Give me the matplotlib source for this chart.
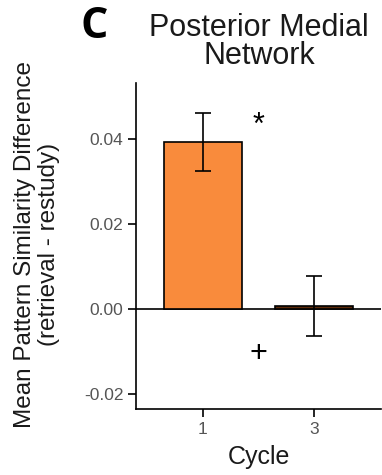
import matplotlib
matplotlib.use("Agg")
import matplotlib.pyplot as plt

plt.rcParams['font.family'] = ['Liberation Sans', 'DejaVu Sans']

categories = ["1", "3"]
means = [0.0394, 0.0007]
errors = [0.0068, 0.0071]
bar_colors = ["#F98B3C", "#5C2A0A"]
yticks = [-0.02, 0.00, 0.02, 0.04]
ytick_labels = ["-0.02", "0.00", "0.02", "0.04"]
star_pos = (0.5, 0.0432)
plus_pos = (0.5, -0.0106)

fig = plt.figure(figsize=(3.82, 4.75), dpi=100)
ax = fig.add_axes([136/382, 1-409/475, (381-136)/382, (409-83)/475])

x = list(range(len(categories)))
ax.bar(x, means, width=0.7, color=bar_colors, edgecolor="black", linewidth=1.2, zorder=2)
ax.errorbar(x, means, yerr=errors, fmt="none", ecolor="black", elinewidth=1.2,
            capsize=5.8, capthick=1.2, zorder=3)
ax.axhline(0, color="black", linewidth=1.2, zorder=1)

ax.set_xlim(-0.6, 1.6)
ax.set_ylim(-0.0235, 0.0532)
ax.set_xticks(x)
ax.set_xticklabels(categories)
ax.set_yticks(yticks)
ax.set_yticklabels(ytick_labels)

for s in ["top", "right"]:
    ax.spines[s].set_visible(False)
for s in ["left", "bottom"]:
    ax.spines[s].set_linewidth(1.2)
ax.tick_params(axis="both", colors="black", labelcolor="#555555", labelsize=12.5,
               length=6, width=1.2, pad=3)

ax.set_xlabel("Cycle", fontsize=18, color="#1a1a1a", labelpad=6)
ax.set_ylabel("Mean Pattern Similarity Difference\n(retrieval - restudy)", fontsize=17.5,
              color="#1a1a1a", linespacing=1.12, labelpad=6)
ax.yaxis.set_label_coords(-0.31, 0.506)

ax.text(star_pos[0], star_pos[1], "*", ha="center", va="center", fontsize=22, color="black")
ax.text(plus_pos[0], plus_pos[1], "+", ha="center", va="center", fontsize=22, color="black")

fig.text(259/382, 1-42/475, "Posterior Medial\nNetwork", ha="center", va="center",
         fontsize=22, linespacing=0.92, color="#1a1a1a")
fig.text(94/382, 1-27/475, "C", ha="center", va="center", fontsize=31,
         fontweight="bold", family=["Open Sans", "DejaVu Sans"], color="black")

fig.savefig("out.png", dpi=100)
